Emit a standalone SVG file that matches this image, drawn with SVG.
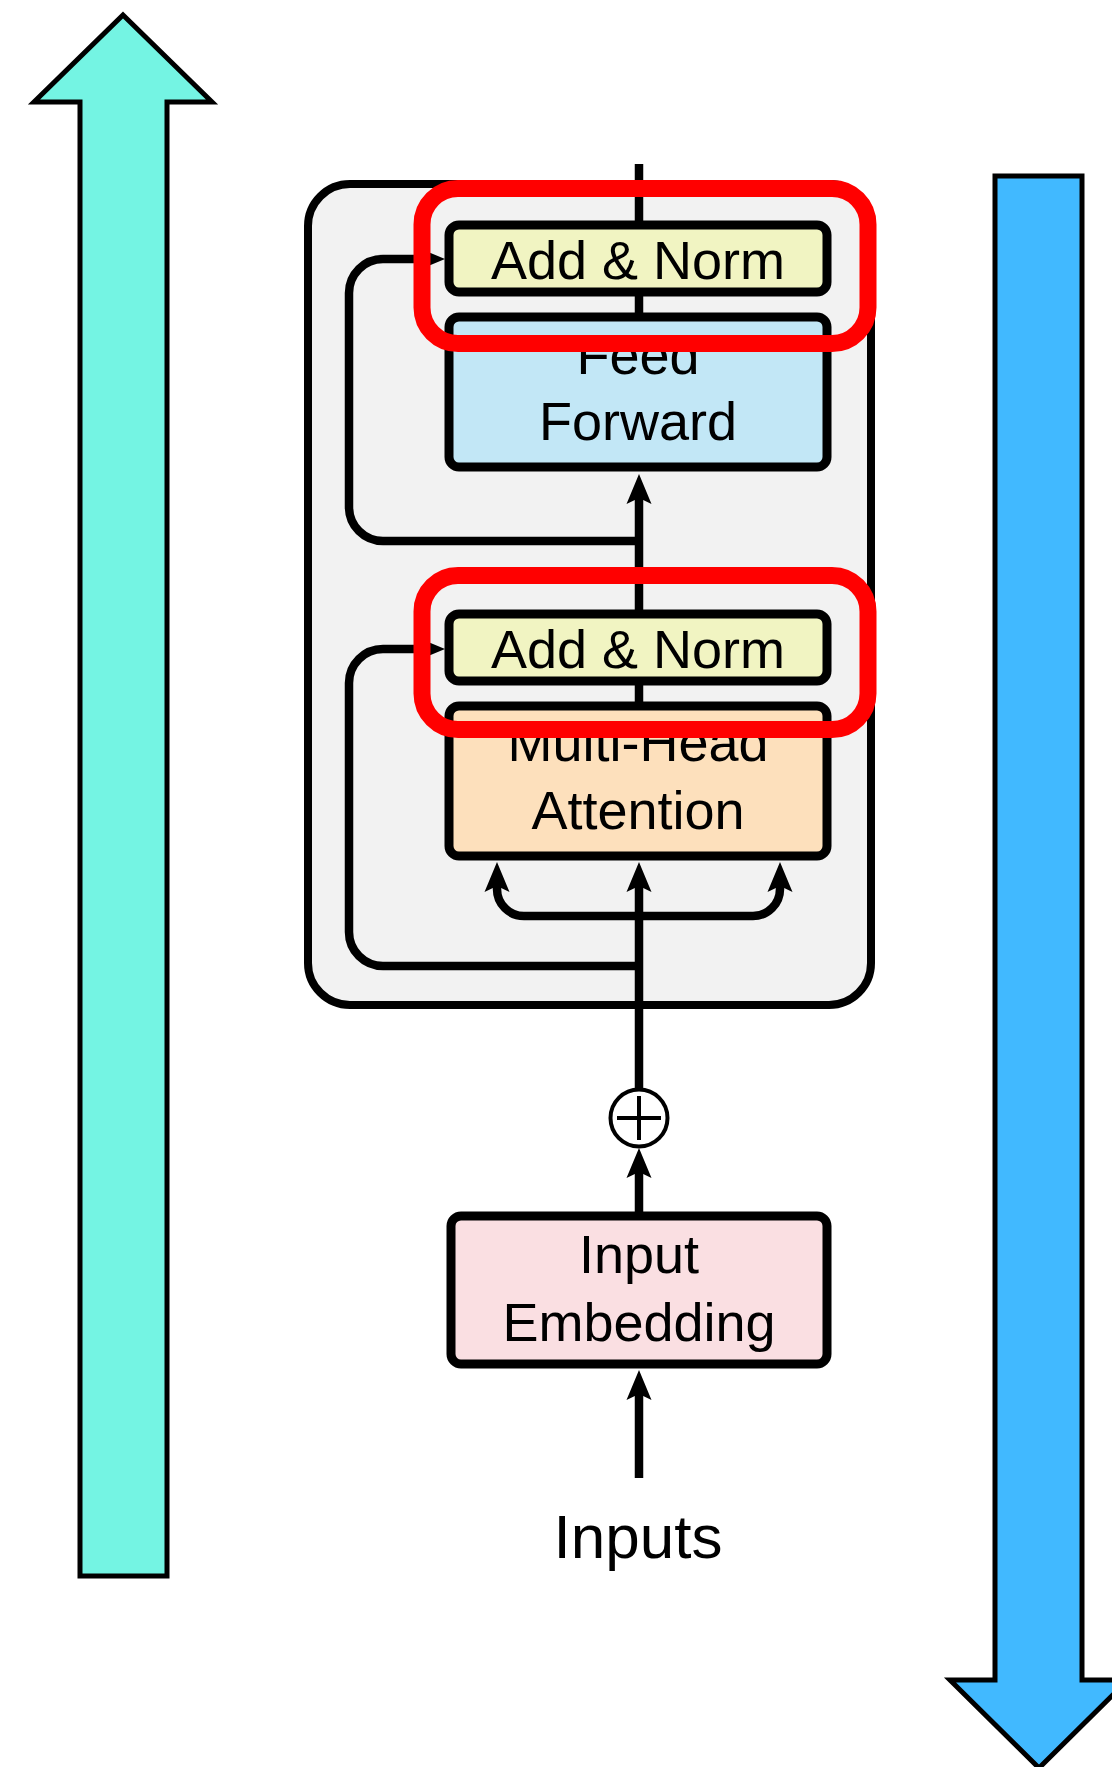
<svg xmlns="http://www.w3.org/2000/svg" width="1112" height="1767" viewBox="0 0 1112 1767">
  <style>
    .box { stroke: #000; stroke-width: 9; }
    .lbl { font-family: "Liberation Sans", Arial, sans-serif; font-size: 54px; fill: #000; text-anchor: middle; }
    .wire { fill: none; stroke: #000; stroke-width: 8.5; }
    .hl { fill: none; stroke: #FF0000; stroke-width: 17; }
  </style>
  <defs>
    <marker id="head" markerUnits="userSpaceOnUse" viewBox="-1 -14 33 28" markerWidth="33" markerHeight="28" refX="6" refY="0" orient="auto">
      <path d="M0,-12.5 L30,0 L0,12.5 L6,0 Z" fill="#000"/>
    </marker>
  </defs>

  <rect width="1112" height="1767" fill="#FFFFFF"/>

  <!-- big up arrow on the left -->
  <g id="flow-up">
    <polygon points="123,15 212,102 167,102 167,1576 80,1576 80,102 34,102" fill="#74F4E3" stroke="#000" stroke-width="5"/>
  </g>

  <!-- big down arrow on the right -->
  <g id="flow-down">
    <polygon points="995,176 1082,176 1082,1680 1128,1680 1039,1768 950,1680 995,1680" fill="#41B9FF" stroke="#000" stroke-width="5"/>
  </g>

  <!-- encoder layer container -->
  <g id="encoder-layer">
    <rect x="308" y="184" width="563" height="821" rx="42" fill="#F2F2F2" stroke="#000" stroke-width="8"/>
  </g>

  <!-- connectors -->
  <g id="connectors">
    <path class="wire" d="M639,164 V226"/>
    <path class="wire" d="M639,291 V317"/>
    <path class="wire" d="M639,615 V498" marker-end="url(#head)"/>
    <path class="wire" d="M639,684 V706"/>
    <path class="wire" d="M639,1090 V886" marker-end="url(#head)"/>
    <path class="wire" d="M639,916 H524 A27,27 0 0 1 497,889 V886" marker-end="url(#head)"/>
    <path class="wire" d="M639,916 H753 A27,27 0 0 0 780,889 V886" marker-end="url(#head)"/>
    <path class="wire" d="M639,541 H383 A34,34 0 0 1 349,507 V293 A34,34 0 0 1 383,259 H421" marker-end="url(#head)"/>
    <path class="wire" d="M639,966 H383 A34,34 0 0 1 349,932 V683 A34,34 0 0 1 383,649 H421" marker-end="url(#head)"/>
    <path class="wire" d="M639,1217 V1172" marker-end="url(#head)"/>
    <path class="wire" d="M639,1478 V1394" marker-end="url(#head)"/>
  </g>

  <g id="add-norm-2">
    <rect class="box" x="449" y="225" width="378" height="67" rx="10" fill="#F1F4C2"/>
    <text class="lbl" x="638" y="279">Add &amp; Norm</text>
  </g>

  <g id="feed-forward">
    <rect class="box" x="449" y="317" width="378" height="150" rx="10" fill="#C2E7F6"/>
    <text class="lbl" x="638" y="374">Feed</text>
    <text class="lbl" x="638" y="440">Forward</text>
  </g>

  <g id="add-norm-1">
    <rect class="box" x="449" y="614" width="378" height="67" rx="10" fill="#F1F4C2"/>
    <text class="lbl" x="638" y="668">Add &amp; Norm</text>
  </g>

  <g id="multi-head-attention">
    <rect class="box" x="449" y="706" width="378" height="150" rx="10" fill="#FDE0BC"/>
    <text class="lbl" x="638" y="761">Multi-Head</text>
    <text class="lbl" x="638" y="829">Attention</text>
  </g>

  <g id="positional-add">
    <circle cx="639" cy="1118" r="28.5" fill="#FFFFFF" stroke="#000" stroke-width="4"/>
    <path d="M617,1118 H661 M639,1096 V1140" stroke="#000" stroke-width="4"/>
  </g>

  <g id="input-embedding">
    <rect class="box" x="451" y="1216" width="376" height="148" rx="10" fill="#FADFE2"/>
    <text class="lbl" x="639" y="1273">Input</text>
    <text class="lbl" x="639" y="1341">Embedding</text>
  </g>

  <g id="inputs">
    <text class="lbl" x="638" y="1558" style="font-size:62px">Inputs</text>
  </g>

  <!-- highlight frames around the two Add & Norm steps -->
  <g id="highlights">
    <rect class="hl" x="422" y="188.5" width="446" height="155" rx="36"/>
    <rect class="hl" x="422" y="575.5" width="446" height="154" rx="36"/>
  </g>
</svg>
